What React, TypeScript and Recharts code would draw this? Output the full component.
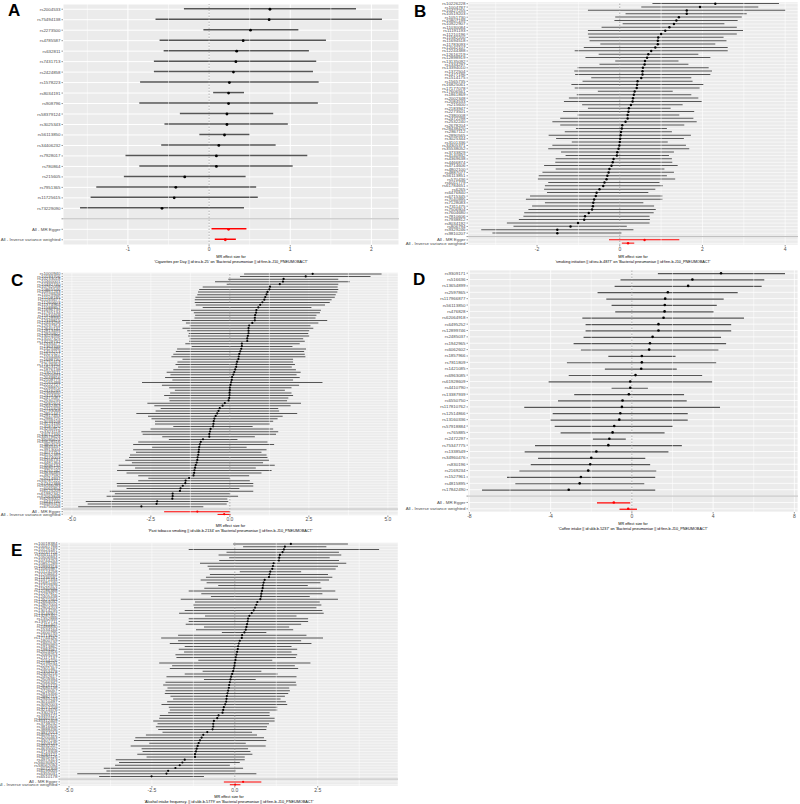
import React from "react";
import { ComposedChart, Bar, Line, XAxis, YAxis, CartesianGrid, ReferenceLine, Cell } from "recharts";

// ---- A: Cigarettes per Day ----
const snpA = ["rs2004533", "rs75494138", "rs2273500", "rs4785587", "rs632811", "rs7431713", "rs2424858", "rs1578223", "rs8034191", "rs908796", "rs58379124", "rs3025343", "rs56113850", "rs34406232", "rs7928017", "rs780864", "rs215605", "rs7951365", "rs11725615", "rs73229090"];
const betaA = [0.75, 0.74, 0.51, 0.42, 0.34, 0.33, 0.3, 0.25, 0.24, 0.24, 0.22, 0.22, 0.19, 0.12, 0.09, 0.09, -0.3, -0.41, -0.43, -0.58];
const loA = [-0.31, -0.66, -0.07, -0.61, -0.56, -0.68, -0.68, -0.85, 0.05, -0.86, -0.36, -0.55, -0.12, -0.59, -1.03, -0.86, -1.05, -1.39, -1.46, -1.59];
const hiA = [1.81, 2.13, 1.1, 1.44, 1.23, 1.32, 1.28, 1.35, 0.43, 1.34, 0.79, 0.97, 0.5, 0.82, 1.21, 1.03, 0.45, 0.58, 0.6, 0.43];
const sumBetaA = [0.24, 0.2];
const sumLoA = [0.03, 0.07];
const sumHiA = [0.46, 0.33];

// ---- B: smoking initiation ----
const snpB = ["rs10226228", "rs1004787", "rs10427255", "rs10519203", "rs1051730", "rs10807199", "rs10922907", "rs11030084", "rs11191193", "rs11210196", "rs11582200", "rs11694518", "rs11783093", "rs12042107", "rs12244388", "rs12616219", "rs12898919", "rs13135092", "rs1334297", "rs13394010", "rs1372504", "rs1477196", "rs1514175", "rs1565735", "rs16825061", "rs17177078", "rs17606561", "rs1861869", "rs2002348", "rs2084533", "rs215600", "rs2183947", "rs2273501", "rs2380008", "rs2472298", "rs2532240", "rs2678204", "rs28438420", "rs2867112", "rs2890565", "rs3025344", "rs3101336", "rs34305371", "rs35538052", "rs3733829", "rs4140932", "rs4369638", "rs4466874", "rs4714606", "rs4802100", "rs4887077", "rs56113851", "rs570436", "rs6011779", "rs61784651", "rs6265", "rs6476840", "rs6715345", "rs7040995", "rs7128083", "rs7311475", "rs7506904", "rs7604680", "rs7810606", "rs7938812", "rs8034192", "rs806794", "rs9329246", "rs9810207"];
const betaB = [2.31, 1.94, 1.62, 1.62, 1.43, 1.37, 1.31, 1.2, 1.1, 1.0, 0.93, 0.92, 0.92, 0.86, 0.76, 0.69, 0.66, 0.61, 0.6, 0.56, 0.55, 0.55, 0.52, 0.43, 0.42, 0.41, 0.36, 0.34, 0.32, 0.31, 0.27, 0.22, 0.21, 0.19, 0.19, 0.14, 0.06, 0.05, 0.03, 0.02, 0.01, 0.0, -0.01, -0.03, -0.06, -0.07, -0.15, -0.17, -0.2, -0.25, -0.27, -0.3, -0.32, -0.37, -0.4, -0.49, -0.56, -0.58, -0.62, -0.64, -0.65, -0.67, -0.75, -0.84, -0.86, -1.01, -1.19, -1.51, -1.51];
const loB = [0.79, 0.52, -0.77, 0.14, -0.11, -0.13, 0.07, -0.44, -0.77, -0.77, -0.75, -0.73, -0.47, -0.87, -1.09, -0.51, -0.83, -0.11, -0.49, -1.02, -1.1, -1.08, -0.69, -0.9, -1.17, -1.09, -0.53, -1.04, -1.23, -1.35, -0.91, -0.77, -1.37, -1.02, -1.44, -1.63, -1.44, -1.06, -1.33, -1.72, -1.54, -1.16, -1.63, -1.73, -1.42, -1.31, -1.55, -1.56, -1.83, -1.55, -1.87, -1.96, -1.98, -1.73, -1.81, -1.83, -1.76, -2.17, -2.27, -1.81, -2.12, -2.21, -2.31, -2.33, -2.44, -2.73, -2.57, -3.35, -3.08];
const hiB = [3.85, 3.35, 4.0, 3.07, 2.95, 2.85, 2.53, 2.83, 2.98, 2.83, 2.51, 2.58, 2.31, 2.61, 2.61, 1.9, 2.19, 1.42, 1.66, 2.15, 2.23, 2.19, 1.73, 1.76, 2.02, 1.93, 1.28, 1.73, 1.9, 1.98, 1.52, 1.23, 1.8, 1.44, 1.78, 1.86, 1.56, 1.14, 1.26, 1.72, 1.55, 1.16, 1.6, 1.68, 1.31, 1.19, 1.26, 1.27, 1.4, 1.08, 1.31, 1.14, 1.34, 0.96, 1.04, 0.86, 0.69, 1.03, 1.03, 0.57, 0.83, 0.87, 0.82, 0.72, 0.73, 0.72, 0.17, 0.33, 0.04];
const sumBetaB = [0.6, 0.2];
const sumLoB = [-0.26, 0.05];
const sumHiB = [1.44, 0.35];

// ---- C: Past tobacco smoking ----
const snpC = ["rs1000940", "rs10193706", "rs10233018", "rs10460001", "rs10492740", "rs10762058", "rs10865546", "rs10951243", "rs11029948", "rs11108185", "rs11165677", "rs11260603", "rs11374964", "rs11588857", "rs11696739", "rs11765134", "rs11916658", "rs12128930", "rs12349815", "rs12443256", "rs12537914", "rs12640131", "rs12813495", "rs12920922", "rs13024996", "rs13107325", "rs13229732", "rs1335477", "rs1363339", "rs1425486", "rs1453213", "rs1521527", "rs1554466", "rs1698730", "rs1751413", "rs17579353", "rs1823125", "rs1876138", "rs1927611", "rs2005693", "rs2049816", "rs2108775", "rs2165488", "rs2222727", "rs2288870", "rs2316245", "rs2366640", "rs2424305", "rs2471087", "rs2530235", "rs2581604", "rs2642463", "rs2710329", "rs2793068", "rs2851447", "rs2917453", "rs2986725", "rs3039108", "rs3123156", "rs3187420", "rs3250912", "rs3323118", "rs34017346", "rs34578624", "rs35095624", "rs35628516", "rs3804573", "rs3845437", "rs3913004", "rs4077751", "rs4152389", "rs4274003", "rs4356731", "rs4481364", "rs4596134", "rs4680720", "rs4751242", "rs4836485", "rs4927592", "rs5014937", "rs55787222", "rs57342388", "rs59166093", "rs6065854", "rs6125209", "rs61982342", "rs62063848", "rs6265002", "rs6437740", "rs6589315", "rs6750048"];
const betaC = [2.62, 2.4, 1.7, 1.68, 1.58, 1.27, 1.25, 1.19, 1.16, 1.12, 1.09, 1.03, 0.96, 0.9, 0.84, 0.83, 0.8, 0.79, 0.79, 0.71, 0.61, 0.59, 0.59, 0.59, 0.57, 0.55, 0.55, 0.38, 0.38, 0.36, 0.33, 0.3, 0.28, 0.27, 0.23, 0.21, 0.2, 0.17, 0.14, 0.11, 0.07, 0.06, 0.04, 0.02, 0.0, 0.0, -0.01, -0.01, -0.02, -0.04, -0.16, -0.23, -0.32, -0.36, -0.4, -0.45, -0.49, -0.51, -0.52, -0.53, -0.61, -0.63, -0.65, -0.65, -0.85, -0.92, -0.95, -0.97, -0.98, -0.99, -1.0, -1.02, -1.03, -1.05, -1.08, -1.1, -1.12, -1.13, -1.15, -1.29, -1.4, -1.41, -1.49, -1.56, -1.58, -1.81, -1.81, -1.82, -2.3, -2.32, -2.8];
const loC = [0.45, 0.32, -0.05, -0.47, -0.1, -0.86, -0.97, -1.01, -1.03, -1.09, -1.11, -1.11, -1.08, -0.86, -1.23, -1.14, -1.1, -1.12, -1.51, -1.39, -1.27, -1.5, -1.35, -1.3, -1.32, -1.27, -1.29, -1.41, -1.21, -1.67, -1.71, -1.79, -1.85, -1.5, -1.66, -1.72, -1.64, -1.79, -2.0, -1.88, -2.05, -1.82, -2.78, -2.15, -1.92, -1.74, -1.89, -2.08, -1.93, -1.91, -2.61, -2.39, -2.19, -2.35, -2.96, -2.59, -2.48, -2.37, -2.37, -1.79, -2.51, -2.8, -2.76, -2.14, -1.93, -2.9, -3.06, -2.46, -3.06, -2.97, -3.16, -3.19, -3.31, -3.1, -3.52, -3.0, -3.57, -3.27, -2.9, -2.58, -2.9, -3.58, -3.57, -3.27, -3.8, -3.64, -3.9, -3.69, -4.56, -4.5, -4.8];
const hiC = [4.8, 4.45, 3.43, 3.79, 3.43, 3.41, 3.43, 3.4, 3.35, 3.32, 3.22, 3.16, 3.01, 2.58, 2.88, 2.85, 2.74, 2.71, 3.08, 2.8, 2.55, 2.64, 2.51, 2.48, 2.51, 2.32, 2.37, 2.21, 1.98, 2.41, 2.35, 2.37, 2.39, 2.0, 2.0, 2.06, 1.96, 2.09, 2.24, 2.11, 2.21, 2.0, 2.93, 2.19, 1.95, 1.74, 1.95, 2.0, 1.85, 1.81, 2.25, 1.92, 1.53, 1.56, 2.13, 1.67, 1.51, 1.37, 1.27, 0.72, 1.37, 1.53, 1.46, 0.79, 0.24, 1.19, 1.4, 0.53, 1.16, 1.0, 1.16, 1.19, 1.24, 1.05, 1.42, 0.82, 1.32, 1.0, 0.61, 0.0, 0.63, 0.74, 0.74, 0.3, 0.74, 0.0, 0.26, -0.08, -0.05, -0.1, -0.84];
const sumBetaC = [-1.03, -0.18];
const sumLoC = [-2.08, -0.39];
const sumHiC = [0.0, 0.02];

// ---- D: Coffee intake ----
const snpD = ["rs9309171", "rs516636", "rs13654899", "rs2597865", "rs117966877", "rs56113850", "rs476828", "rs62064918", "rs6495252", "rs12899746", "rs2485037", "rs1942965", "rs6062602", "rs1857966", "rs7811809", "rs1421085", "rs6963085", "rs61928609", "rs4410790", "rs13387939", "rs6550750", "rs117810762", "rs12514866", "rs13160336", "rs57918884", "rs765885", "rs2472297", "rs75347775", "rs1338549", "rs34960476", "rs830196", "rs2169234", "rs1527961", "rs4815895", "rs17842490"];
const betaD = [4.39, 2.98, 2.77, 1.77, 1.64, 1.62, 1.61, 1.56, 1.31, 1.31, 1.02, 0.89, 0.85, 0.49, 0.49, 0.46, 0.18, -0.08, -0.08, -0.15, -0.46, -0.49, -0.57, -0.62, -0.87, -0.95, -1.11, -1.16, -1.75, -2.0, -2.05, -2.15, -2.51, -2.57, -3.11];
const loD = [1.28, -0.56, -0.85, -1.69, -1.26, -1.0, -0.82, -2.44, -2.28, -2.28, -2.38, -2.87, -2.51, -1.16, -3.2, -1.33, -3.11, -4.1, -1.0, -2.84, -3.64, -5.3, -3.9, -4.0, -3.8, -3.51, -1.92, -4.77, -5.28, -4.62, -4.98, -5.54, -6.15, -5.74, -7.38];
const hiD = [7.54, 6.52, 6.39, 5.21, 4.52, 4.18, 4.02, 5.52, 4.89, 4.89, 4.39, 4.64, 4.26, 2.15, 4.15, 2.21, 3.46, 3.95, 0.79, 2.57, 2.7, 4.34, 2.75, 2.75, 2.02, 1.61, -0.3, 2.46, 1.8, 0.66, 0.9, 1.2, 1.15, 0.61, 1.15];
const sumBetaD = [-0.89, -0.18];
const sumLoD = [-1.72, -0.61];
const sumHiD = [-0.08, 0.25];

// ---- E: Alcohol intake frequency ----
const snpE = ["rs10018384", "rs10061788", "rs10125187", "rs10237724", "rs10411135", "rs10506934", "rs10744253", "rs10851289", "rs10993318", "rs11065987", "rs11124258", "rs11208664", "rs11336591", "rs11571434", "rs11681240", "rs11722979", "rs11940694", "rs12186388", "rs12297812", "rs12405438", "rs12521564", "rs12664032", "rs12807004", "rs12904203", "rs13014235", "rs13146907", "rs13287402", "rs1352888", "rs13972711", "rs1411407", "rs1488830", "rs1534164", "rs1600795", "rs1713676", "rs17744182", "rs1800759", "rs1860545", "rs1913862", "rs1984567", "rs2024916", "rs2069254", "rs2117137", "rs2154226", "rs2198231", "rs2242079", "rs2301467", "rs2353478", "rs2405216", "rs2452617", "rs2509394", "rs2566342", "rs2616123", "rs2680138", "rs2726057", "rs2815356", "rs2882715", "rs2945233", "rs3010497", "rs3092003", "rs3157209", "rs3214576", "rs3302911", "rs3393121", "rs34460315", "rs35312409", "rs3738232", "rs3816606", "rs3888436", "rs3977013", "rs4096122", "rs4200463", "rs4307236", "rs4409145", "rs4532207", "rs4635002", "rs4719308", "rs4783121", "rs4890126", "rs4975313", "rs56030824", "rs58062094", "rs6072309", "rs6199005", "rs6355031", "rs6510178"];
const betaE = [1.69, 1.51, 1.48, 1.44, 1.36, 1.34, 1.33, 1.17, 1.15, 1.13, 1.07, 1.05, 1.03, 0.9, 0.87, 0.85, 0.84, 0.82, 0.8, 0.79, 0.77, 0.68, 0.65, 0.61, 0.57, 0.51, 0.44, 0.4, 0.39, 0.37, 0.35, 0.33, 0.29, 0.22, 0.21, 0.15, 0.12, 0.1, 0.09, 0.07, 0.05, 0.03, 0.02, 0.0, -0.01, -0.03, -0.05, -0.08, -0.11, -0.13, -0.15, -0.17, -0.18, -0.2, -0.22, -0.24, -0.25, -0.26, -0.29, -0.33, -0.35, -0.37, -0.49, -0.53, -0.63, -0.65, -0.65, -0.67, -0.83, -0.95, -1.0, -1.05, -1.09, -1.12, -1.15, -1.17, -1.2, -1.2, -1.51, -1.58, -1.66, -1.79, -2.01, -2.06, -2.51];
const loE = [-0.05, 0.25, -1.39, -0.25, -0.49, -0.17, -0.47, -1.05, -0.82, -0.78, 0.15, -0.75, -0.87, -1.03, -0.85, -0.5, -0.92, -1.39, -1.01, -0.72, -1.63, -1.2, -1.26, -1.23, -1.51, -1.68, -0.9, -1.39, -1.39, -1.48, -0.93, -1.17, -0.39, -1.71, -2.22, -1.71, -1.96, -1.51, -1.69, -1.53, -1.79, -1.76, -1.1, -2.28, -1.89, -1.96, -0.97, -1.51, -2.06, -0.93, -2.09, -2.16, -2.03, -2.09, -2.11, -1.94, -1.86, -2.04, -2.21, -1.99, -1.96, -2.01, -2.26, -2.28, -2.46, -2.33, -2.38, -2.31, -2.18, -2.68, -3.0, -3.04, -2.58, -3.14, -2.81, -2.78, -2.94, -2.66, -3.59, -3.49, -3.61, -3.95, -3.87, -4.75, -4.09];
const hiE = [3.41, 2.76, 4.35, 3.14, 3.21, 2.86, 3.14, 3.36, 3.11, 3.04, 2.0, 2.81, 2.94, 2.84, 2.58, 2.2, 2.61, 3.03, 2.64, 2.26, 3.11, 2.56, 2.61, 2.46, 2.64, 2.68, 1.86, 2.21, 2.21, 2.0, 1.64, 1.76, 0.95, 2.16, 2.66, 2.0, 2.31, 1.71, 1.88, 1.71, 1.88, 1.84, 1.13, 2.28, 1.81, 1.91, 0.8, 1.29, 1.86, 0.63, 1.84, 1.86, 1.64, 1.66, 1.61, 1.51, 1.38, 1.54, 1.58, 1.28, 1.28, 1.05, 1.05, 1.2, 1.2, 1.03, 0.97, 0.95, 0.52, 0.67, 0.88, 0.95, 0.33, 0.93, 0.4, 0.47, 0.53, 0.3, 0.3, 0.15, -0.15, 0.25, 0.02, 0.65, -0.93];
const sumBetaE = [0.25, 0.01];
const sumLoE = [-0.33, -0.15];
const sumHiE = [0.8, 0.17];

const summaryLabels = ["All - MR Egger", "All - Inverse variance weighted"];
const FONT = "Liberation Sans, Arial, sans-serif";

function buildRows(snps: string[], beta: number[], lo: number[], hi: number[], sb: number[], sl: number[], sh: number[]) {
  const rows: any[] = snps.map((s, i) => ({ snp: s, b: beta[i], range: [lo[i], hi[i]], summary: false }));
  rows.push({ snp: " ", summary: false });
  summaryLabels.forEach((lab, i) => rows.push({ snp: lab, b: sb[i], range: [sl[i], sh[i]], summary: true }));
  return rows;
}

const rowsA = buildRows(snpA, betaA, loA, hiA, sumBetaA, sumLoA, sumHiA);
const rowsB = buildRows(snpB, betaB, loB, hiB, sumBetaB, sumLoB, sumHiB);
const rowsC = buildRows(snpC, betaC, loC, hiC, sumBetaC, sumLoC, sumHiC);
const rowsD = buildRows(snpD, betaD, loD, hiD, sumBetaD, sumLoD, sumHiD);
const rowsE = buildRows(snpE, betaE, loE, hiE, sumBetaE, sumLoE, sumHiE);

function Forest(p: any) {
  const { rows, left, top, width, height, yWidth, mTop, mRight, xHeight, domain, ticks, minors, decimals, barSize, dotR, gridW } = p;

  const snpTick = (t: any) => (
    <text x={t.x} y={t.y} dy={1.5} textAnchor="end" fontSize={4.4} fill="#4d4d4d" fontFamily={FONT}>
      {t.payload.value}
    </text>
  );

  const dot = (d: any) => {
    const key = `dot-${d.index}`;
    if (d.cx == null || d.cy == null || d.payload == null || d.payload.b == null) return <g key={key} />;
    return <circle key={key} cx={d.cx} cy={d.cy} r={dotR} fill={d.payload.summary ? "#ff0000" : "#000000"} />;
  };

  return (
    <div style={{ position: "absolute", left, top, width, height }}>
      <ComposedChart
        width={width}
        height={height}
        data={rows}
        layout="vertical"
        margin={{ top: mTop, right: mRight, bottom: 0, left: 0 }}
        barCategoryGap={0}
      >
        <CartesianGrid fill="#ebebeb" stroke="#ffffff" strokeWidth={gridW} />
        {minors.map((m: number) => (
          <ReferenceLine key={m} x={m} stroke="#ffffff" strokeWidth={0.5} />
        ))}
        <ReferenceLine x={0} stroke="#9a9a9a" strokeWidth={0.8} strokeDasharray="1.5 1.5" />
        <ReferenceLine y=" " stroke="#bdbdbd" strokeWidth={1} />
        <XAxis
          type="number"
          domain={domain}
          ticks={ticks}
          allowDataOverflow
          height={xHeight}
          axisLine={false}
          tickSize={1.5}
          tickMargin={0.5}
          tickLine={{ stroke: "#333333", strokeWidth: 0.5 }}
          tick={{ fontSize: 5, fill: "#4d4d4d", fontFamily: FONT }}
          tickFormatter={(v: number) => (decimals ? v.toFixed(1) : String(v))}
        />
        <YAxis
          type="category"
          dataKey="snp"
          width={yWidth}
          interval={0}
          axisLine={false}
          tickSize={1.5}
          tickMargin={1}
          tickLine={{ stroke: "#333333", strokeWidth: 0.5 }}
          tick={snpTick}
        />
        <Bar dataKey="range" barSize={barSize} isAnimationActive={false}>
          {rows.map((r: any, i: number) => (
            <Cell key={`c-${i}`} fill={r.summary ? "#ff0000" : "#555555"} />
          ))}
        </Bar>
        <Line dataKey="b" stroke="none" isAnimationActive={false} dot={dot} activeDot={false} />
      </ComposedChart>
    </div>
  );
}

const titleLines = [
  { x: 231, y: 257.5, t: "MR effect size for" },
  { x: 231, y: 262.5, t: "'Cigarettes per Day || id:ieu-b-25' on 'Bacterial pneumoniae || id:finn-b-J10_PNEUMOBACT'" },
  { x: 633, y: 257.5, t: "MR effect size for" },
  { x: 633, y: 262.5, t: "'smoking initiation || id:ieu-b-4877' on 'Bacterial pneumoniae || id:finn-b-J10_PNEUMOBACT'" },
  { x: 230.5, y: 526.5, t: "MR effect size for" },
  { x: 230.5, y: 532, t: "'Past tobacco smoking || id:ukb-b-2134' on 'Bacterial pneumoniae || id:finn-b-J10_PNEUMOBACT'" },
  { x: 633, y: 525, t: "MR effect size for" },
  { x: 633, y: 529.5, t: "'Coffee intake || id:ukb-b-5237' on 'Bacterial pneumoniae || id:finn-b-J10_PNEUMOBACT'" },
  { x: 229, y: 798, t: "MR effect size for" },
  { x: 229, y: 803, t: "'Alcohol intake frequency. || id:ukb-b-5779' on 'Bacterial pneumoniae || id:finn-b-J10_PNEUMOBACT'" },
];

const letters = [
  { x: 8, y: 16, t: "A" },
  { x: 414, y: 17, t: "B" },
  { x: 11, y: 286, t: "C" },
  { x: 413, y: 285, t: "D" },
  { x: 11, y: 556, t: "E" },
];

export default function App() {
  return (
    <div style={{ position: "absolute", left: 0, top: 0, width: 800, height: 804, background: "#ffffff", overflow: "hidden" }}>
      <Forest rows={rowsA} left={0} top={0} width={400} height={260} yWidth={63} mTop={4} mRight={1} xHeight={15}
        domain={[-1.8, 2.34]} ticks={[-1, 0, 1, 2]} minors={[-1.5, -0.5, 0.5, 1.5]} decimals={false} barSize={1.5} dotR={1.4} gridW={1} />
      <Forest rows={rowsB} left={400} top={0} width={400} height={260} yWidth={68} mTop={2} mRight={2} xHeight={15}
        domain={[-3.67, 4.31]} ticks={[-2, 0, 2, 4]} minors={[-3, -1, 1, 3]} decimals={false} barSize={1} dotR={1.2} gridW={0.6} />
      <Forest rows={rowsC} left={0} top={260} width={400} height={270} yWidth={63} mTop={12.5} mRight={2} xHeight={14.5}
        domain={[-5.28, 5.32]} ticks={[-5, -2.5, 0, 2.5, 5]} minors={[-3.75, -1.25, 1.25, 3.75]} decimals={true} barSize={1} dotR={1.1} gridW={0.5} />
      <Forest rows={rowsD} left={400} top={260} width={400} height={270} yWidth={68} mTop={10} mRight={2} xHeight={18}
        domain={[-8.07, 8.18]} ticks={[-8, -4, 0, 4, 8]} minors={[-6, -2, 2, 6]} decimals={false} barSize={1.2} dotR={1.3} gridW={0.8} />
      <Forest rows={rowsE} left={0} top={530} width={400} height={274} yWidth={60} mTop={12.5} mRight={2} xHeight={18}
        domain={[-5.27, 4.92]} ticks={[-5, -2.5, 0, 2.5]} minors={[-3.75, -1.25, 1.25, 3.75]} decimals={true} barSize={1} dotR={1.1} gridW={0.5} />
      <svg width={800} height={804} style={{ position: "absolute", left: 0, top: 0, pointerEvents: "none" }}>
        {titleLines.map((l, i) => (
          <text key={i} x={l.x} y={l.y} textAnchor="middle" fontSize={3.8} fill="#000" fontFamily={FONT}>{l.t}</text>
        ))}
        {letters.map((l) => (
          <text key={l.t} x={l.x} y={l.y} fontSize={17} fontWeight="bold" fill="#000" fontFamily={FONT}>{l.t}</text>
        ))}
      </svg>
    </div>
  );
}
